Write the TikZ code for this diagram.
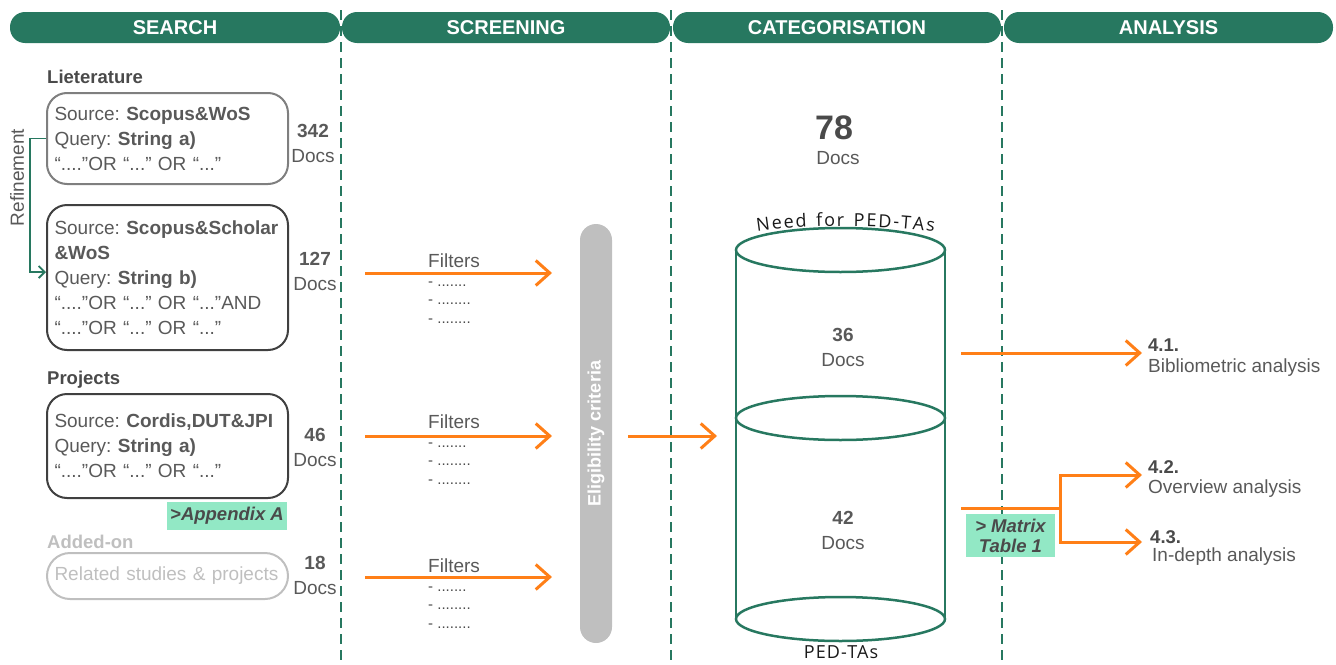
\documentclass[tikz,border=0pt]{standalone}
\usepackage{fontspec}
\setmainfont{Liberation Sans}
\newfontfamily\arcfont[LetterSpace=6]{Open Sans}
\usetikzlibrary{arrows.meta,positioning,decorations.text}
\definecolor{Pine}{HTML}{277860}
\definecolor{Tangerine}{HTML}{FF7F17}
\definecolor{Ink}{HTML}{595959}
\definecolor{InkDark}{HTML}{4A4A4A}
\definecolor{Frame}{HTML}{7F7F7F}
\definecolor{FrameDark}{HTML}{404040}
\definecolor{Faded}{HTML}{BFBFBF}
\definecolor{Mint}{HTML}{92E8C5}
\newcommand{\pxfont}[2]{\fontsize{#1}{#2}\selectfont}
\frenchspacing

\begin{document}
\begin{tikzpicture}[x=1pt,y=-1pt,
    phase/.style={fill=Pine,rounded corners=15pt,minimum height=31pt,
      text=white,font=\pxfont{20}{24}\bfseries},
    lane/.style={draw=Pine,line width=2.5pt,dash pattern=on 10pt off 6pt},
    srcbox/.style={draw=FrameDark,line width=2pt,rounded corners=20pt,
      minimum width=241pt,text width=226pt,inner xsep=7.5pt,align=left,
      text=Ink,font=\pxfont{19}{25}},
    count/.style={align=center,text=Ink,font=\pxfont{19}{25}},
    group/.style={anchor=west,inner sep=0,text=InkDark,font=\pxfont{18.5}{22}\bfseries},
    label/.style={anchor=base west,inner sep=0,text=Ink,font=\pxfont{19}{22}},
    dots/.style={anchor=north west,inner sep=0,align=left,text=InkDark,font=\pxfont{15}{18.5}},
    flow/.style={-{Straight Barb[length=14pt,width=25pt]},line width=3pt,draw=Tangerine},
    refine/.style={-{Straight Barb[length=6pt,width=12pt]},line width=1.8pt,draw=Pine},
    tag/.style={fill=Mint,text=InkDark,align=center,font=\pxfont{18.5}{20}\bfseries\itshape},
    tank/.style={draw=Pine,line width=2.5pt}
  ]
  \useasboundingbox (0,0) rectangle (1336,664);

  % lanes and phase headers
  \foreach \x in {341,671,1002}
    \draw[lane] (\x,10) -- (\x,664);
  \node[phase,minimum width=330pt] (search) at (175,27.5) {SEARCH};
  \node[phase,minimum width=328pt] (screen) at (506,27.5) {SCREENING};
  \node[phase,minimum width=328pt] (categ) at (837,27.5) {CATEGORISATION};
  \node[phase,minimum width=329pt] (analy) at (1168.5,27.5) {ANALYSIS};

  % search
  \node[group] (lit) at (47,77) {Lieterature};
  \node[srcbox,draw=Frame,minimum height=91pt] (lit1) at (167.5,138.5)
    {Source: \textbf{Scopus\&WoS}\\Query: \textbf{String a)}\\“....”OR “...” OR “...”};
  \node[count] (n342) at (313,143) {\textbf{342}\\Docs};
  \node[srcbox,minimum height=145pt] (lit2) at (167.5,277.5)
    {Source: \textbf{Scopus\&Scholar}\\\textbf{\&WoS}\\Query: \textbf{String b)}\\
     “....”OR “...” OR “...”AND\\“....”OR “...” OR “...”};
  \node[count] (n127) at (315,271.5) {\textbf{127}\\Docs};
  \draw[refine] (lit1.west) -- ++(-16,0) |- ([yshift=5.5pt]lit2.west);
  \node[rotate=90,text=Ink,font=\pxfont{19}{20}] (refn) at (17,177.5) {Refinement};

  \node[group] (proj) at (47,380) {Projects};
  \node[srcbox,minimum height=104pt] (proj1) at (167.5,446)
    {Source: \textbf{Cordis,DUT\&JPI}\\Query: \textbf{String a)}\\“....”OR “...” OR “...”};
  \node[count] (n46) at (315,447) {\textbf{46}\\Docs};
  \node[tag,minimum width=120pt,minimum height=28pt] (appx) at (227,516) {>Appendix A};

  \node[group,text=Faded] (added) at (47,542) {Added-on};
  \node[srcbox,draw=Faded,text=Faded,minimum height=46pt,rounded corners=23pt] (extra)
    at (167.5,576) {Related studies \& projects};
  \node[count] (n18) at (315,575) {\textbf{18}\\Docs};

  % screening
  \node[fill=Faded,rounded corners=16pt,minimum width=419pt,minimum height=32pt,
    rotate=90,text=white,font=\pxfont{18}{20}\bfseries] (elig) at (596,433.5)
    {Eligibility criteria};

  \coordinate (in1) at (365,273);
  \coordinate (to1) at (552,273);
  \coordinate (in2) at (365,436);
  \coordinate (to2) at (552,436);
  \coordinate (in3) at (365,577);
  \coordinate (to3) at (552,577);
  \draw[flow] (in1) -- (to1);
  \draw[flow] (in2) -- (to2);
  \draw[flow] (in3) -- (to3);
  \node[label] (filt1) at (428,267) {Filters};
  \node[dots] (crit1) at (428,273) {\strut- .......\\\strut- ........\\\strut- ........};
  \node[label] (filt2) at (428,428) {Filters};
  \node[dots] (crit2) at (428,434) {\strut- .......\\\strut- ........\\\strut- ........};
  \node[label] (filt3) at (428,572) {Filters};
  \node[dots] (crit3) at (428,578) {\strut- .......\\\strut- ........\\\strut- ........};

  \coordinate (eout) at (628,436);
  \coordinate (cin) at (717,436);
  \draw[flow] (eout) -- (cin);

  % categorisation
  \node[text=InkDark,font=\pxfont{34}{34}\bfseries] (n78) at (834,128) {78};
  \node[text=Ink,font=\pxfont{19}{22}] (d78) at (838,158) {Docs};

  \draw[tank] (736,250) -- (736,619) (945,250) -- (945,619);
  \draw[tank] (840.5,250) ellipse [x radius=104.5pt,y radius=22pt];
  \draw[tank] (840.5,418) ellipse [x radius=104.5pt,y radius=22pt];
  \draw[tank] (840.5,619) ellipse [x radius=104.5pt,y radius=22pt];
  \path[decorate,decoration={text along path,text align=fit to path,
      text={|\arcfont\pxfont{18}{20}\color{black!90}|Need for PED-TAs}}]
    (757,232) .. controls (805,224.5) and (886,224.5) .. (934,232);
  \node[text=black!90,font=\arcfont\pxfont{18}{20}] (pedtas) at (841,652) {PED-TAs};
  \node[count] (n36) at (843,347.5) {\textbf{36}\\Docs};
  \node[count] (n42) at (843,530.5) {\textbf{42}\\Docs};

  % analysis
  \coordinate (o1) at (961,353);
  \coordinate (t41) at (1142,353);
  \coordinate (o2) at (961,508);
  \coordinate (fork) at (1060,508);
  \coordinate (t42) at (1142,475);
  \coordinate (t43) at (1142,542);
  \draw[flow] (o1) -- (t41);
  \draw[line width=3pt,draw=Tangerine] (o2) -- (fork);
  \draw[flow] (fork) |- (t42);
  \draw[flow] (fork) |- (t43);
  \node[tag,minimum width=89pt,minimum height=43pt] (matrix) at (1010.5,535.5)
    {> Matrix\\Table 1};

  \node[label,text=InkDark,font=\pxfont{18.5}{22}\bfseries] (a41) at (1148,351) {4.1.};
  \node[label] (b41) at (1148,372) {Bibliometric analysis};
  \node[label,text=InkDark,font=\pxfont{18.5}{22}\bfseries] (a42) at (1148,473) {4.2.};
  \node[label] (b42) at (1148,493) {Overview analysis};
  \node[label,text=InkDark,font=\pxfont{18.5}{22}\bfseries] (a43) at (1150,543) {4.3.};
  \node[label] (b43) at (1152,561) {In-depth analysis};
\end{tikzpicture}
\end{document}
